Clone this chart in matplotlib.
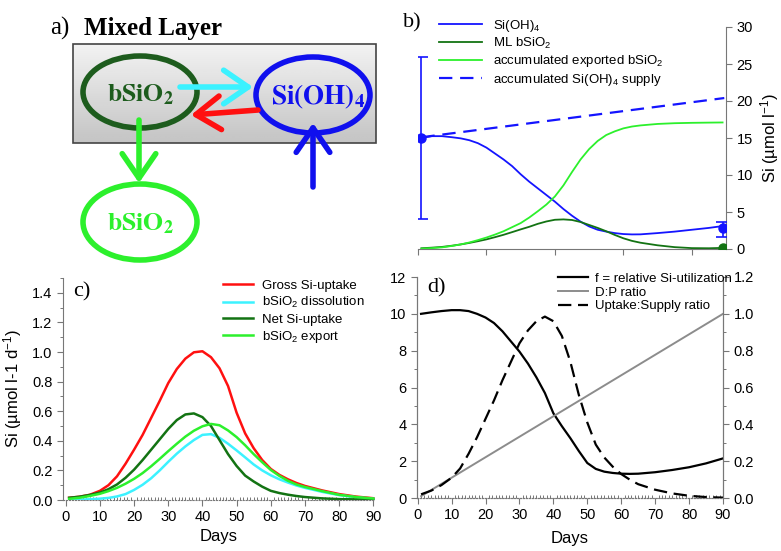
import matplotlib
matplotlib.use('Agg')
import matplotlib.pyplot as plt
import numpy as np
from matplotlib.patches import Ellipse, Rectangle
from matplotlib.ticker import MultipleLocator

plt.rcParams['font.family'] = ['Liberation Sans', 'DejaVu Sans']
plt.rcParams['mathtext.fontset'] = 'custom'
plt.rcParams['mathtext.rm'] = 'Liberation Sans'
plt.rcParams['mathtext.it'] = 'Liberation Sans:italic'
plt.rcParams['mathtext.bf'] = 'Liberation Sans:bold'

# ---- panel b data (Si pools, umol/l) ----
b_days = [1, 4, 7, 10, 12.5, 15, 17.5, 20, 22.5, 25, 27.5, 30, 32.5, 35, 37.5, 40, 42.5, 45, 47.5, 50,
          52.5, 55, 57.5, 60, 62.5, 65, 70, 75, 80, 85, 89]
b_si = [15.0, 15.25, 15.25, 15.1, 14.95, 14.7, 14.3, 13.7, 12.9, 12.1, 11.2, 10.1, 9.1, 8.2, 7.3, 6.4, 5.4, 4.5,
        3.7, 3.05, 2.6, 2.35, 2.15, 2.02, 1.97, 1.98, 2.15, 2.35, 2.6, 2.85, 3.1]
b_bsi = [0.1, 0.18, 0.28, 0.45, 0.62, 0.82, 1.05, 1.3, 1.6, 1.92, 2.28, 2.65, 3.0, 3.4, 3.72, 3.95, 4.0, 3.92,
         3.65, 3.25, 2.85, 2.4, 1.9, 1.45, 1.1, 0.85, 0.5, 0.25, 0.12, 0.1, 0.15]
b_exp = [0.05, 0.12, 0.22, 0.42, 0.62, 0.88, 1.2, 1.55, 1.95, 2.4, 2.95, 3.5, 4.25, 5.1, 6.0, 7.1, 8.6, 10.4,
         12.1, 13.5, 14.6, 15.4, 15.9, 16.3, 16.55, 16.7, 16.9, 17.0, 17.05, 17.08, 17.1]
b_days_sup = [1, 89.5]
b_sup = [15.1, 20.4]
# observations (mean, lower, upper)
obs_days = [1, 89]
obs_si = [15.0, 2.8]
obs_si_lo = [4.0, 1.6]
obs_si_hi = [26.0, 3.7]
obs_bsi = [0.2]

# ---- panel c data (rates, umol/l/d) ----
c_days = [1, 4, 7, 10, 12.5, 15, 17.5, 20, 22.5, 25, 27.5, 30, 32.5, 35, 37.5, 40, 42.5, 45, 47.5, 50,
          52.5, 55, 57.5, 60, 62.5, 65, 67.5, 70, 75, 80, 85, 90]
c_gross = [0.015, 0.022, 0.035, 0.062, 0.1, 0.16, 0.245, 0.34, 0.44, 0.555, 0.67, 0.79, 0.885, 0.955, 0.998,
           1.005, 0.965, 0.89, 0.77, 0.59, 0.45, 0.35, 0.27, 0.21, 0.17, 0.14, 0.115, 0.095, 0.065, 0.04, 0.023, 0.012]
c_diss = [0.0, 0.002, 0.005, 0.009, 0.014, 0.024, 0.04, 0.068, 0.103, 0.147, 0.2, 0.258, 0.313, 0.362, 0.405,
          0.44, 0.445, 0.42, 0.38, 0.335, 0.288, 0.24, 0.2, 0.167, 0.14, 0.118, 0.098, 0.082, 0.055, 0.033, 0.018, 0.008]
c_net = [0.015, 0.022, 0.034, 0.05, 0.073, 0.105, 0.15, 0.205, 0.27, 0.34, 0.41, 0.48, 0.54, 0.578, 0.585, 0.56,
         0.5, 0.405, 0.31, 0.23, 0.165, 0.125, 0.09, 0.062, 0.047, 0.036, 0.027, 0.02, 0.011, 0.006, 0.004, 0.003]
c_export = [0.008, 0.015, 0.027, 0.042, 0.06, 0.082, 0.11, 0.143, 0.182, 0.228, 0.278, 0.33, 0.38, 0.428, 0.468,
            0.498, 0.514, 0.505, 0.47, 0.425, 0.37, 0.31, 0.255, 0.203, 0.163, 0.13, 0.105, 0.088, 0.06, 0.035, 0.02, 0.01]

# ---- panel d data ----
d_days = [1, 4, 7, 10, 12.5, 15, 17.5, 20, 22.5, 25, 27.5, 30, 32.5, 35, 37.5, 40, 42.5, 45, 47.5, 50,
          52.5, 55, 57.5, 60, 62.5, 65, 70, 75, 80, 85, 90]
d_f = [10.0, 10.08, 10.15, 10.2, 10.2, 10.15, 10.0, 9.8, 9.5, 9.05, 8.5, 7.95, 7.3, 6.55, 5.7, 4.6, 3.9, 3.25,
       2.55, 1.9, 1.58, 1.43, 1.36, 1.32, 1.31, 1.32, 1.4, 1.52, 1.67, 1.88, 2.15]
d_us = [0.02, 0.04, 0.07, 0.11, 0.16, 0.24, 0.33, 0.43, 0.53, 0.64, 0.74, 0.84, 0.91, 0.96, 0.985, 0.96, 0.88,
        0.74, 0.56, 0.41, 0.29, 0.22, 0.17, 0.13, 0.1, 0.075, 0.045, 0.025, 0.012, 0.005, 0.002]
d_days_dp = [1, 90]
d_dp = [0.01, 1.0]

BLUE = '#1414ff'
DKGREEN = '#137313'
LIME = '#2cf02c'
CYAN = '#3cf2ff'
RED = '#ff1010'
SPINE = '#777777'

fig = plt.figure(figsize=(7.81, 5.51), dpi=100)
W, H = 781.0, 551.0


def px_axes(x0, y_top, x1, y_bot):
    return fig.add_axes([x0 / W, 1 - y_bot / H, (x1 - x0) / W, (y_bot - y_top) / H])


def style_ticks(ax):
    ax.tick_params(which='major', length=4, width=0.8, color=SPINE, labelsize=10.5)
    ax.tick_params(which='minor', length=2.5, width=0.7, color=SPINE)


# ================= panel a : schematic =================
axa = px_axes(0, 0, 390, 270)
axa.set_xlim(0, 390)
axa.set_ylim(270, 0)
axa.axis('off')

grad = np.linspace(0.95, 0.77, 50).reshape(-1, 1)
axa.imshow(grad, cmap='gray', vmin=0, vmax=1, extent=(73, 376, 143, 44), aspect='auto', zorder=1)
axa.add_patch(Rectangle((73, 44), 303, 99, fill=False, ec='#444444', lw=1.2, zorder=2))

axa.text(50, 28, 'a)', fontsize=18, family='Liberation Serif', va='center', ha='left')
axa.text(84, 28, 'Mixed Layer', fontsize=18, family='Liberation Serif', fontweight='bold', va='center', ha='left')

axa.add_patch(Ellipse((140, 92), 114, 72, fill=False, ec='#1d5c1d', lw=4.0, zorder=3))
axa.add_patch(Ellipse((313, 95), 114, 76, fill=False, ec='#1010ee', lw=4.0, zorder=3))
axa.add_patch(Ellipse((140, 222), 114, 76, fill=False, ec=LIME, lw=4.0, zorder=3))

axa.text(140, 95, r'$\mathbf{bSiO_2}$', math_fontfamily='stix', fontsize=18.5, color='#1d5c1d',
         ha='center', va='center', zorder=4)
axa.text(318, 97, r'$\mathbf{Si(OH)_4}$', math_fontfamily='stix', fontsize=19.5, color='#1010ee',
         ha='center', va='center', zorder=4)
axa.text(140, 224, r'$\mathbf{bSiO_2}$', math_fontfamily='stix', fontsize=18.5, color=LIME,
         ha='center', va='center', zorder=4)


def arrow(start, end, color):
    axa.annotate('', xy=end, xytext=start, zorder=5,
                 arrowprops=dict(arrowstyle='->,head_length=0.8,head_width=0.55', lw=4, color=color,
                                 shrinkA=0, shrinkB=0, mutation_scale=22))


arrow((180, 87), (253, 87), CYAN)
arrow((258, 110), (191, 115), RED)
arrow((139, 120), (139, 183), LIME)
arrow((313, 187), (313, 123), '#1010ee')

# ================= panel b =================
axb = px_axes(418, 27, 726, 249)
axb.plot(b_days, b_si, color=BLUE, lw=1.3, label='Si(OH)$_4$')
axb.plot(b_days, b_bsi, color=DKGREEN, lw=1.3, label='ML bSiO$_2$')
axb.plot(b_days, b_exp, color=LIME, lw=1.3, label='accumulated exported bSiO$_2$')
axb.plot(b_days_sup, b_sup, color=BLUE, lw=1.6, ls=(0, (6, 3.5)), label='accumulated Si(OH)$_4$ supply')
err_lo = np.array(obs_si) - np.array(obs_si_lo)
err_hi = np.array(obs_si_hi) - np.array(obs_si)
axb.errorbar(obs_days, obs_si, yerr=[err_lo, err_hi], fmt='o', color=BLUE, ms=6.5, capsize=5, elinewidth=1.2,
             capthick=1.2, zorder=5)
axb.plot(obs_days[-1:], obs_bsi, 'o', color=DKGREEN, ms=6.5, zorder=5)
axb.set_xlim(0, 90)
axb.set_ylim(0, 30)
axb.xaxis.set_major_locator(MultipleLocator(20))
axb.tick_params(axis='x', labelbottom=False)
axb.yaxis.tick_right()
axb.yaxis.set_label_position('right')
axb.set_yticks(np.arange(0, 31, 5))
axb.set_ylabel('Si (µmol l$^{-1}$)', fontsize=12, labelpad=4)
for s in ['top', 'left']:
    axb.spines[s].set_visible(False)
for s in ['bottom', 'right']:
    axb.spines[s].set_color(SPINE)
    axb.spines[s].set_linewidth(0.8)
style_ticks(axb)
axb.legend(loc='upper left', bbox_to_anchor=(432 / W, 1 - 11 / H), bbox_transform=fig.transFigure,
           frameon=False, fontsize=9.5, handlelength=3.3, handletextpad=0.8, labelspacing=0.18, borderpad=0)
fig.text(403 / W, 1 - 23 / H, 'b)', fontsize=16, family='Liberation Serif', va='center')

# ================= panel c =================
axc = px_axes(63, 278, 375, 500)
axc.plot(c_days, c_gross, color=RED, lw=1.8, label='Gross Si-uptake')
axc.plot(c_days, c_diss, color=CYAN, lw=1.8, label='bSiO$_2$ dissolution')
axc.plot(c_days, c_net, color=DKGREEN, lw=1.8, label='Net Si-uptake')
axc.plot(c_days, c_export, color=LIME, lw=1.8, label='bSiO$_2$ export')
axc.set_xlim(-0.8, 90.5)
axc.set_ylim(0, 1.5)
axc.set_xticks(np.arange(0, 91, 10))
axc.xaxis.set_minor_locator(MultipleLocator(1))
axc.set_yticks(np.arange(0, 1.41, 0.2))
axc.yaxis.set_minor_locator(MultipleLocator(0.1))
axc.set_yticklabels(['%.1f' % v for v in np.arange(0, 1.41, 0.2)])
for s in ['top', 'right']:
    axc.spines[s].set_visible(False)
axc.spines['left'].set_color(SPINE)
axc.spines['bottom'].set_color(SPINE)
axc.spines['bottom'].set_linestyle(':')
style_ticks(axc)
axc.tick_params(axis='x', which='minor', direction='in', length=2.5)
axc.set_xlabel('Days', fontsize=12, labelpad=3)
axc.set_ylabel('Si (µmol l-1 d$^{-1}$)', fontsize=12, labelpad=6)
axc.legend(loc='upper left', bbox_to_anchor=(216 / W, 1 - 273 / H), bbox_transform=fig.transFigure,
           frameon=False, fontsize=9.5, handlelength=2.3, handletextpad=0.7, labelspacing=0.25, borderpad=0)
fig.text(73 / W, 1 - 292 / H, 'c)', fontsize=16, family='Liberation Serif', va='center')

# ================= panel d =================
axd = px_axes(417, 277, 723, 498)
axd2 = axd.twinx()
axd.plot(d_days, d_f, color='black', lw=1.6, label='f = relative Si-utilization')
axd2.plot(d_days_dp, d_dp, color='#8c8c8c', lw=1.4, label='D:P ratio')
axd2.plot(d_days, d_us, color='black', lw=1.6, ls=(0, (6, 3)), label='Uptake:Supply ratio')
axd.set_xlim(-0.2, 90)
axd.set_ylim(0, 12)
axd2.set_ylim(0, 1.2)
axd.set_xticks(np.arange(0, 91, 10))
axd.xaxis.set_minor_locator(MultipleLocator(1))
axd.set_yticks(np.arange(0, 13, 2))
axd.yaxis.set_minor_locator(MultipleLocator(1))
axd2.set_yticks(np.arange(0, 1.21, 0.2))
axd2.set_yticklabels(['%.1f' % v for v in np.arange(0, 1.21, 0.2)])
axd2.yaxis.set_minor_locator(MultipleLocator(0.1))
for a in (axd, axd2):
    a.spines['top'].set_visible(False)
    for s in ['left', 'right', 'bottom']:
        a.spines[s].set_color(SPINE)
    a.spines['bottom'].set_linestyle(':')
    style_ticks(a)
axd.tick_params(axis='x', which='minor', direction='in', length=2.5)
axd.set_xlabel('Days', fontsize=12, labelpad=6)
h1, l1 = axd.get_legend_handles_labels()
h2, l2 = axd2.get_legend_handles_labels()
axd2.legend(h1 + h2, l1 + l2, loc='upper left', bbox_to_anchor=(551 / W, 1 - 266 / H),
            bbox_transform=fig.transFigure, frameon=False, fontsize=9.5, handlelength=2.3,
            handletextpad=0.55, labelspacing=0.12, borderpad=0)
fig.text(427 / W, 1 - 288 / H, 'd)', fontsize=16, family='Liberation Serif', va='center')

fig.savefig('out.png', dpi=100)
